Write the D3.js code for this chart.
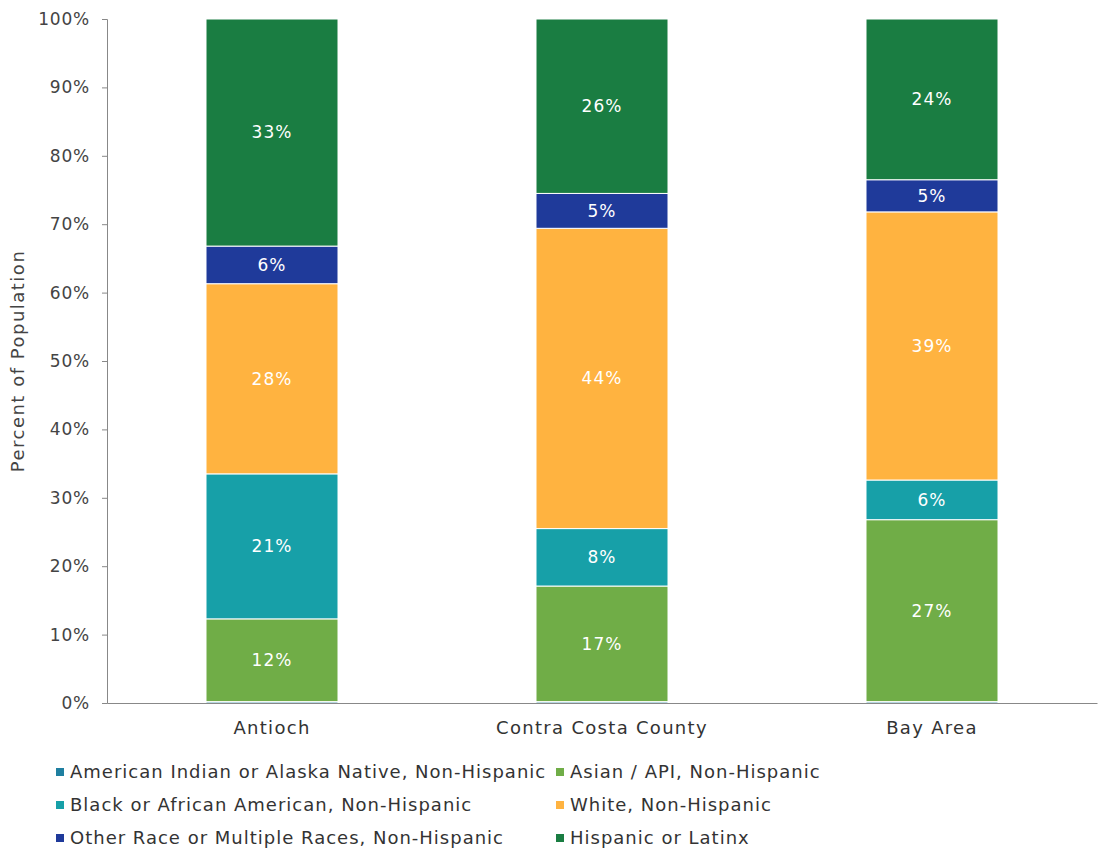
<!DOCTYPE html>
<html>
<head>
<meta charset="utf-8">
<script src="https://cdn.jsdelivr.net/npm/d3@7"></script>
<style>
  body { margin: 0; background: #fff; }
  text { font-family: "DejaVu Sans", sans-serif; }
</style>
</head>
<body>
<svg id="chart"></svg>
<script>
var places = ["Antioch", "Contra Costa County", "Bay Area"];
var groups = [
  "American Indian or Alaska Native, Non-Hispanic",
  "Asian / API, Non-Hispanic",
  "Black or African American, Non-Hispanic",
  "White, Non-Hispanic",
  "Other Race or Multiple Races, Non-Hispanic",
  "Hispanic or Latinx"
];
var amIndian = [0.2, 0.2, 0.2];
var asian = [12.1, 16.9, 26.6];
var black = [21.2, 8.4, 5.8];
var white = [27.8, 43.9, 39.2];
var other = [5.5, 5.1, 4.7];
var hispanic = [33.2, 25.5, 23.5];
var colors = ["#1f7fa0", "#70ad47", "#17a0a8", "#ffb340", "#1f3a9a", "#1a7d42"];
var yTicks = [0, 10, 20, 30, 40, 50, 60, 70, 80, 90, 100];

var series = [amIndian, asian, black, white, other, hispanic];
var rows = places.map(function (p, i) {
  var r = { place: p };
  groups.forEach(function (g, k) { r[g] = series[k][i]; });
  return r;
});

var W = 1098, H = 857;
var margin = { top: 19, right: 1, bottom: 154, left: 107 };
var width = W - margin.left - margin.right,
  height = H - margin.top - margin.bottom;

var svg = d3.select("#chart").attr("width", W).attr("height", H);
var g = svg.append("g")
  .attr("transform", "translate(" + margin.left + "," + margin.top + ")");

var x = d3.scaleBand().domain(places).range([0, width])
  .paddingInner(0.6).paddingOuter(0.3);
var y = d3.scaleLinear().domain([0, 100]).range([height, 0]);
var color = d3.scaleOrdinal().domain(groups).range(colors);

var stacked = d3.stack().keys(groups)(rows);

var layer = g.selectAll(".layer")
  .data(stacked)
  .enter().append("g")
  .attr("fill", function (d) { return color(d.key); });

layer.selectAll("rect")
  .data(function (d) { return d; })
  .enter().append("rect")
  .attr("x", function (d) { return x(d.data.place); })
  .attr("y", function (d) { return y(d[1]); })
  .attr("width", x.bandwidth())
  .attr("height", function (d) { return y(d[0]) - y(d[1]); })
  .attr("stroke", "#fff")
  .attr("stroke-width", 1);

// value labels (skip tiny slices)
layer.selectAll("text")
  .data(function (d) { return d.filter(function (s) { return s[1] - s[0] > 2; }); })
  .enter().append("text")
  .attr("x", function (d) { return x(d.data.place) + x.bandwidth() / 2; })
  .attr("y", function (d) { return y((d[0] + d[1]) / 2); })
  .attr("dy", "0.35em")
  .attr("text-anchor", "middle")
  .attr("fill", "#fff")
  .style("font-size", "17px")
  .style("letter-spacing", "1px")
  .text(function (d) { return Math.round(d[1] - d[0]) + "%"; });

// y axis
var yAxis = g.append("g")
  .call(d3.axisLeft(y).tickValues(yTicks).tickSize(5).tickPadding(12)
    .tickFormat(function (d) { return d + "%"; }));
yAxis.select(".domain").attr("stroke", "#888");
yAxis.selectAll(".tick line").attr("stroke", "#888");
yAxis.selectAll("text").attr("fill", "#444")
  .style("font-size", "17px").style("letter-spacing", "0.8px");

// x axis
var xAxis = g.append("g")
  .attr("transform", "translate(0," + height + ")")
  .call(d3.axisBottom(x).tickSize(0).tickPadding(18));
xAxis.select(".domain").attr("stroke", "#888");
xAxis.selectAll("text").attr("fill", "#333")
  .style("font-size", "18px").style("letter-spacing", "1.3px");

svg.append("text")
  .attr("transform", "translate(24," + (margin.top + height / 2) + ") rotate(-90)")
  .attr("text-anchor", "middle")
  .attr("fill", "#444")
  .style("font-size", "18px")
  .style("letter-spacing", "1.5px")
  .text("Percent of Population");

// legend, two columns
var legend = svg.append("g");
var leg = legend.selectAll("g")
  .data(groups)
  .enter().append("g")
  .attr("transform", function (d, i) {
    var col = i % 2, row = Math.floor(i / 2);
    return "translate(" + (col === 0 ? 56 : 556) + "," + (772 + row * 33) + ")";
  });
leg.append("rect")
  .attr("x", 0).attr("y", -4)
  .attr("width", 8).attr("height", 8)
  .attr("fill", function (d) { return color(d); });
leg.append("text")
  .attr("x", 14)
  .attr("dy", "0.35em")
  .attr("fill", "#333")
  .style("font-size", "18px")
  .style("letter-spacing", "1px")
  .text(function (d) { return d; });
</script>
</body>
</html>
